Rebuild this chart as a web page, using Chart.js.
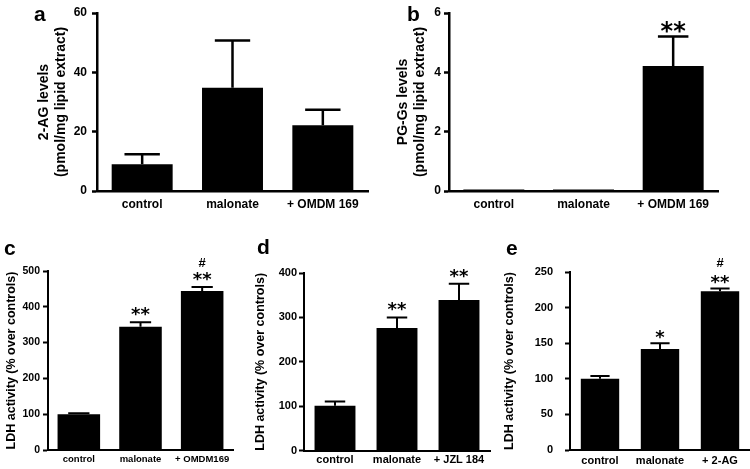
<!DOCTYPE html>
<html><head><meta charset="utf-8">
<script src="https://cdn.jsdelivr.net/npm/chart.js@4.4.1/dist/chart.umd.min.js"></script>
<style>
html,body{margin:0;padding:0;background:#fff;width:750px;height:469px;overflow:hidden}
.p{position:absolute}
.lbl{position:absolute;font:bold 21px "Liberation Sans",Arial,sans-serif;color:#000;line-height:1}
</style></head><body>
<div class="p" style="left:0;top:0"><canvas id="ca" width="375" height="230"></canvas></div>
<div class="p" style="left:375px;top:0"><canvas id="cb" width="375" height="230"></canvas></div>
<div class="p" style="left:0;top:230px"><canvas id="cc" width="250" height="239"></canvas></div>
<div class="p" style="left:250px;top:230px"><canvas id="cd" width="250" height="239"></canvas></div>
<div class="p" style="left:500px;top:230px"><canvas id="ce" width="250" height="239"></canvas></div>
<div class="lbl" style="left:34px;top:3px">a</div>
<div class="lbl" style="left:407px;top:3px">b</div>
<div class="lbl" style="left:4px;top:237px">c</div>
<div class="lbl" style="left:257px;top:236px">d</div>
<div class="lbl" style="left:506px;top:237px">e</div>
<script>
// ---- data ----
const catsA = ['control', 'malonate', '+ OMDM 169'];
const valsA = [9.0, 34.8, 22.2];
const errsA = [3.4, 15.9, 5.2];
const starsA = ['', '', ''];
const hashA = ['', '', ''];
const yTicksA = [0, 20, 40, 60];
const titleA = ['2-AG levels', '(pmol/mg lipid extract)'];

const catsB = ['control', 'malonate', '+ OMDM 169'];
const valsB = [0.05, 0.05, 4.21];
const errsB = [0, 0, 1.0];
const starsB = ['', '', '**'];
const hashB = ['', '', ''];
const yTicksB = [0, 2, 4, 6];
const titleB = ['PG-Gs levels', '(pmol/mg lipid extract)'];

const catsC = ['control', 'malonate', '+ OMDM169'];
const valsC = [100, 344, 444];
const errsC = [3, 13, 11];
const starsC = ['', '**', '**'];
const hashC = ['', '', '#'];
const yTicksC = [0, 100, 200, 300, 400, 500];
const titleC = 'LDH activity (% over controls)';

const catsD = ['control', 'malonate', '+ JZL 184'];
const valsD = [101, 276, 339];
const errsD = [10, 24, 37];
const starsD = ['', '**', '**'];
const hashD = ['', '', ''];
const yTicksD = [0, 100, 200, 300, 400];
const titleD = 'LDH activity (% over controls)';

const catsE = ['control', 'malonate', '+ 2-AG'];
const valsE = [100, 142, 223];
const errsE = [4, 8, 4];
const starsE = ['', '*', '**'];
const hashE = ['', '', '#'];
const yTicksE = [0, 50, 100, 150, 200, 250];
const titleE = 'LDH activity (% over controls)';

// ---- drawing ----
const FAM = '"Liberation Sans", Arial, sans-serif';
Chart.defaults.font.family = FAM;
Chart.defaults.color = '#000';
const store = {};

const errPlugin = {
  id: 'errStars',
  afterDatasetsDraw(chart) {
    const d = store[chart.canvas.id];
    const ctx = chart.ctx, y = chart.scales.y;
    const meta = chart.getDatasetMeta(0);
    ctx.save();
    ctx.strokeStyle = '#000'; ctx.fillStyle = '#000';
    ctx.lineWidth = d.L.errW; ctx.lineCap = 'butt';
    meta.data.forEach((bar, i) => {
      const v = d.vals[i], e = d.errs[i];
      const yb = y.getPixelForValue(v), yt = y.getPixelForValue(v + e);
      if (e > 0) {
        const cw = bar.width * d.L.cap;
        ctx.beginPath();
        ctx.moveTo(bar.x, yb); ctx.lineTo(bar.x, yt);
        ctx.moveTo(bar.x - cw / 2, yt); ctx.lineTo(bar.x + cw / 2, yt);
        ctx.stroke();
      }
      ctx.textAlign = 'center'; ctx.textBaseline = 'alphabetic';
      if (d.stars[i]) {
        ctx.font = 'bold ' + d.L.starSize + 'px "DejaVu Sans"';
        const m = ctx.measureText(d.stars[i]);
        const c = yt - d.L.starOff;
        ctx.fillText(d.stars[i], bar.x, c + (m.actualBoundingBoxAscent - m.actualBoundingBoxDescent) / 2);
      }
      if (d.hash[i]) {
        ctx.font = 'bold ' + d.L.hashSize + 'px ' + FAM;
        const m = ctx.measureText(d.hash[i]);
        const c = yt - d.L.hashOff;
        ctx.fillText(d.hash[i], bar.x, c + (m.actualBoundingBoxAscent - m.actualBoundingBoxDescent) / 2);
      }
    });
    ctx.restore();
  }
};

function panel(id, cats, vals, errs, stars, hash, yTicks, title, L) {
  store[id] = {vals, errs, stars, hash, L};
  new Chart(document.getElementById(id), {
    type: 'bar',
    data: {labels: cats, datasets: [{data: vals, backgroundColor: '#000', borderWidth: 0,
      barPercentage: L.bp, categoryPercentage: 1}]},
    options: {
      responsive: false, animation: false, devicePixelRatio: 1,
      layout: {padding: {left: 0, top: L.top, right: L.right, bottom: 0}},
      plugins: {legend: {display: false}, tooltip: {enabled: false}},
      scales: {
        x: {
          grid: {display: false, drawTicks: false, tickLength: 0},
          border: {display: true, color: '#000', width: L.axW},
          ticks: {font: {size: L.xFont, weight: 'bold'}, color: '#000', padding: L.xPad, maxRotation: 0, autoSkip: false},
          afterFit: s => { s.height = L.xH; }
        },
        y: {
          min: yTicks[0], max: yTicks[yTicks.length - 1],
          afterBuildTicks: s => { s.ticks = yTicks.map(v => ({value: v})); },
          grid: {display: true, drawOnChartArea: false, drawTicks: true, tickLength: 5, tickWidth: L.axW, tickColor: '#000'},
          border: {display: true, color: '#000', width: L.axW},
          ticks: {font: {size: L.yFont, weight: 'bold'}, color: '#000', padding: L.yPad},
          title: {display: true, text: title, color: '#000',
            font: {size: L.tFont, weight: 'bold', lineHeight: L.tLH}, padding: {top: L.tPad, bottom: 0}},
          afterFit: s => { s.width = L.yW; }
        }
      }
    },
    plugins: [errPlugin]
  });
}

panel('ca', catsA, valsA, errsA, starsA, hashA, yTicksA, titleA,
  {top: 13, right: 7, yW: 97, xH: 39, bp: 0.675, axW: 2.5, errW: 2.5, cap: 0.58,
   xFont: 12, xPad: 6, yFont: 12, yPad: 5, tFont: 14, tLH: 1.2, tPad: 35.6,
   starSize: 22, starOff: 9, hashSize: 13, hashOff: 25});
panel('cb', catsB, valsB, errsB, starsB, hashB, yTicksB, titleB,
  {top: 13, right: 32, yW: 74, xH: 39, bp: 0.68, axW: 2.5, errW: 2.5, cap: 0.5,
   xFont: 12, xPad: 6, yFont: 12, yPad: 3, tFont: 14, tLH: 1.2, tPad: 19.6,
   starSize: 24, starOff: 9, hashSize: 13, hashOff: 25});
panel('cc', catsC, valsC, errsC, starsC, hashC, yTicksC, titleC,
  {top: 41, right: 17, yW: 48, xH: 19, bp: 0.69, axW: 2, errW: 2, cap: 0.5,
   xFont: 9.5, xPad: 4, yFont: 10.5, yPad: 3, tFont: 12.5, tLH: 1.2, tPad: 4.5,
   starSize: 18, starOff: 11, hashSize: 13, hashOff: 25});
panel('cd', catsD, valsD, errsD, starsD, hashD, yTicksD, titleD,
  {top: 43, right: 10, yW: 54, xH: 18.3, bp: 0.66, axW: 2, errW: 2, cap: 0.5,
   xFont: 11, xPad: 3, yFont: 11, yPad: 2, tFont: 12.5, tLH: 1.2, tPad: 3.2,
   starSize: 18, starOff: 10.5, hashSize: 13, hashOff: 25});
panel('ce', catsE, valsE, errsE, starsE, hashE, yTicksE, titleE,
  {top: 42, right: 0, yW: 70, xH: 19, bp: 0.64, axW: 2, errW: 2, cap: 0.5,
   xFont: 11, xPad: 4, yFont: 11, yPad: 12, tFont: 12.5, tLH: 1.2, tPad: 2.5,
   starSize: 18, starOff: 8.5, hashSize: 13, hashOff: 26});
</script>
</body></html>
